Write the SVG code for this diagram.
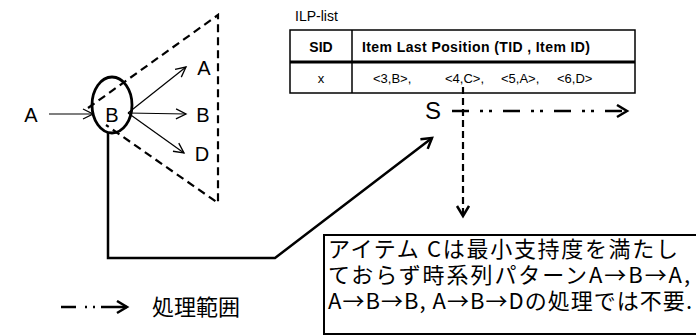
<svg xmlns="http://www.w3.org/2000/svg" width="696" height="336" viewBox="0 0 696 336">
<style>
text{font-family:"Liberation Sans","Noto Sans CJK JP",sans-serif;fill:#000}
.lbl{font-size:20px}
.jp{font-family:"Noto Sans CJK JP","Liberation Sans",sans-serif}
.thin{stroke:#000;stroke-width:1.2;fill:none}
.dash{stroke:#000;stroke-width:2.2;fill:none;stroke-dasharray:8 5}
.solid{stroke:#000;stroke-width:2.5;fill:none}
</style>
<defs>
<marker id="open" markerUnits="userSpaceOnUse" markerWidth="14" markerHeight="14" refX="11" refY="6" orient="auto">
<path d="M1,1 L11,6 L1,11" fill="none" stroke="#000" stroke-width="1.3"/>
</marker>
<marker id="bold" markerUnits="userSpaceOnUse" markerWidth="16" markerHeight="16" refX="12" refY="7" orient="auto">
<path d="M2,1 L12,7 L2,13" fill="none" stroke="#000" stroke-width="2.5"/>
</marker>
</defs>
<g id="scope">
<path class="dash" d="M88,108 L218,15 L218,203 L106,125"/>
</g>
<g id="nodeA">
<text class="lbl" x="31" y="122" text-anchor="middle">A</text>
</g>
<g id="nodeB">
<ellipse cx="112" cy="105" rx="20" ry="28" fill="none" stroke="#000" stroke-width="2.8"/>
<text class="lbl" x="112" y="122" text-anchor="middle">B</text>
</g>
<g id="childA"><text class="lbl" x="204" y="75" text-anchor="middle">A</text></g>
<g id="childB"><text class="lbl" x="203" y="122" text-anchor="middle">B</text></g>
<g id="childD"><text class="lbl" x="202" y="161" text-anchor="middle">D</text></g>
<g id="table">
<text x="295" y="21" font-size="14">ILP-list</text>
<rect x="290" y="30" width="345" height="63" fill="#fff" stroke="#000" stroke-width="1.5"/>
<line x1="290" y1="62" x2="635" y2="62" stroke="#000" stroke-width="3"/>
<line x1="352" y1="30" x2="352" y2="93" stroke="#000" stroke-width="1.5"/>
<text x="321" y="52" font-size="14" font-weight="bold" text-anchor="middle">SID</text>
<text x="362" y="52" font-size="14" font-weight="bold" textLength="228" lengthAdjust="spacing">Item Last Position (TID , Item ID)</text>
<text x="321" y="83" font-size="13" text-anchor="middle">x</text>
<text x="373" y="83" font-size="13">&lt;3,B&gt;,</text>
<text x="445" y="83" font-size="13">&lt;4,C&gt;,</text>
<text x="501" y="83" font-size="13">&lt;5,A&gt;,</text>
<text x="557" y="83" font-size="13">&lt;6,D&gt;</text>
</g>
<g id="nodeS">
<text x="433" y="119" font-size="24" text-anchor="middle">S</text>
</g>
<g id="note">
<rect x="324" y="235" width="380" height="99" fill="#fff" stroke="#000" stroke-width="2"/>
<text class="jp" font-size="22"><tspan x="328" y="257" textLength="350" lengthAdjust="spacing">アイテム Cは最小支持度を満たし</tspan><tspan x="328" y="283" textLength="362" lengthAdjust="spacing">ておらず時系列パターンA→B→A,</tspan><tspan x="328" y="309" textLength="364" lengthAdjust="spacing">A→B→B, A→B→Dの処理では不要.</tspan></text>
</g>
<g id="legend">
<path d="M61,307 L127,307" stroke="#000" stroke-width="2.5" fill="none" stroke-dasharray="15 9 2 6 2 6 40" marker-end="url(#bold)"/>
<text class="jp" x="152" y="315" font-size="22">処理範囲</text>
</g>
<g id="connectors">
<line class="thin" x1="49" y1="114" x2="93" y2="114" marker-end="url(#open)"/>
<line class="thin" x1="128" y1="113" x2="186" y2="67" marker-end="url(#open)"/>
<line class="thin" x1="128" y1="113" x2="186" y2="114" marker-end="url(#open)"/>
<line class="thin" x1="128" y1="113" x2="184" y2="153" marker-end="url(#open)"/>
<polyline class="solid" points="108,133 108,258 275,258 432,138" marker-end="url(#bold)"/>
<line x1="463" y1="87" x2="463" y2="216" stroke="#000" stroke-width="2.2" stroke-dasharray="7 4" marker-end="url(#bold)"/>
<line x1="452" y1="111" x2="627" y2="111" stroke="#000" stroke-width="2.5" stroke-dasharray="17 11 3 6 3 11" marker-end="url(#bold)"/>
</g>
</svg>
